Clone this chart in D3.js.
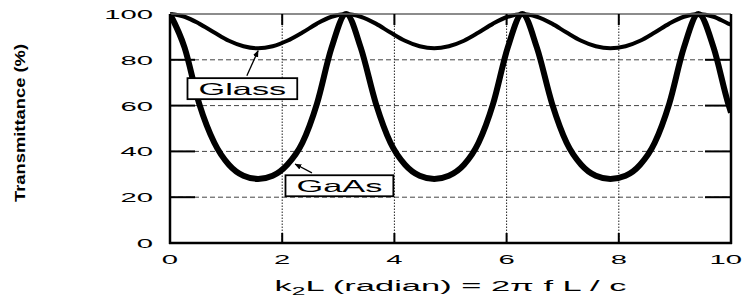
<!DOCTYPE html>
<html>
<head>
<meta charset="utf-8">
<script src="https://cdn.jsdelivr.net/npm/d3@7"></script>
<style>
  body { margin: 0; background: #fff; }
  text { font-family: "Liberation Sans", Arial, sans-serif; fill: #000; }
</style>
</head>
<body>
<div id="chart"></div>
<script>
// phase k2L (radian) sampled every ~pi/12
const k2L = [0, 0.26, 0.52, 0.79, 1.05, 1.31, 1.57, 1.83, 2.09, 2.36, 2.62, 2.88, 3.14,
  3.40, 3.67, 3.93, 4.19, 4.45, 4.71, 4.97, 5.24, 5.50, 5.76, 6.02, 6.28,
  6.54, 6.81, 7.07, 7.33, 7.59, 7.85, 8.12, 8.38, 8.64, 8.90, 9.16, 9.42,
  9.69, 9.95, 10.0];
// transmittance (%)
const glass = [100, 98.8, 95.8, 91.9, 88.3, 85.9, 85, 85.9, 88.3, 91.9, 95.8, 98.8, 100,
  98.8, 95.8, 91.9, 88.3, 85.9, 85, 85.9, 88.3, 91.9, 95.8, 98.8, 100,
  98.8, 95.8, 91.9, 88.3, 85.9, 85, 85.9, 88.3, 91.9, 95.8, 98.8, 100,
  98.8, 95.8, 95.3];
const gaas = [100, 85.3, 60.9, 43.8, 34.2, 29.4, 28, 29.4, 34.2, 43.8, 60.9, 85.3, 100,
  85.3, 60.9, 43.8, 34.2, 29.4, 28, 29.4, 34.2, 43.8, 60.9, 85.3, 100,
  85.3, 60.9, 43.8, 34.2, 29.4, 28, 29.4, 34.2, 43.8, 60.9, 85.3, 100,
  85.3, 60.9, 57];
const xTicks = [0, 2, 4, 6, 8, 10];
const yTicks = [0, 20, 40, 60, 80, 100];
// annotation: label, arrow tip, arrow tail, label centre (data units)
const labels = [
  { name: "Glass", tip: [1.57, 84], tail: [1.37, 73], at: [1.29, 67.4] },
  { name: "GaAs", tip: [2.23, 34.5], tail: [2.53, 30.6], at: [3.02, 25.0] }
];

const width = 743, height = 300;
const margin = { top: 14, right: 12, bottom: 57, left: 170 };
const SX = 2.25; // the original lettering is stretched horizontally

const svg = d3.select("#chart").append("svg")
  .attr("width", width).attr("height", height);

const x = d3.scaleLinear().domain([0, 10]).range([margin.left, width - margin.right]);
const y = d3.scaleLinear().domain([0, 100]).range([height - margin.bottom, margin.top]);

svg.append("defs").append("clipPath").attr("id", "plot")
  .append("rect").attr("x", x(0)).attr("y", y(100) - 4)
  .attr("width", x(10) - x(0)).attr("height", y(0) - y(100) + 4);

const marker = svg.select("defs").append("marker")
  .attr("id", "head").attr("viewBox", "0 0 10 10")
  .attr("refX", 9).attr("refY", 5)
  .attr("markerWidth", 7).attr("markerHeight", 7)
  .attr("markerUnits", "userSpaceOnUse")
  .attr("orient", "auto");
marker.append("path").attr("d", "M0,1 L10,5 L0,9 z").attr("fill", "#000");

// grid
const inner = yTicks.slice(1, -1), innerX = xTicks.slice(1, -1);
svg.append("g").selectAll("line").data(inner).join("line")
  .attr("x1", x(0)).attr("x2", x(10))
  .attr("y1", d => y(d)).attr("y2", d => y(d))
  .attr("stroke", "#444").attr("stroke-width", 1).attr("stroke-dasharray", "5,3");
svg.append("g").selectAll("line").data(innerX).join("line")
  .attr("x1", d => x(d)).attr("x2", d => x(d))
  .attr("y1", y(0)).attr("y2", y(100))
  .attr("stroke", "#222").attr("stroke-width", 1).attr("stroke-dasharray", "1.5,1.5");

// curves
const line = d3.line().x((d, i) => x(k2L[i])).y(d => y(d)).curve(d3.curveMonotoneX);
const curves = svg.append("g").attr("clip-path", "url(#plot)");
curves.append("path").datum(gaas).attr("d", line)
  .attr("fill", "none").attr("stroke", "#000").attr("stroke-width", 6);
curves.append("path").datum(glass).attr("d", line)
  .attr("fill", "none").attr("stroke", "#000").attr("stroke-width", 4);

// frame
svg.append("line").attr("x1", x(0)).attr("x2", x(10)).attr("y1", y(100)).attr("y2", y(100))
  .attr("stroke", "#666").attr("stroke-width", 1.5);
const frame = svg.append("g").attr("stroke", "#000").attr("stroke-width", 2.5);
frame.append("line").attr("x1", x(0)).attr("x2", x(0)).attr("y1", y(100)).attr("y2", y(0) + 1);
frame.append("line").attr("x1", x(10)).attr("x2", x(10)).attr("y1", y(100)).attr("y2", y(0) + 1);
frame.append("line").attr("x1", x(0) - 1).attr("x2", x(10) + 1).attr("y1", y(0)).attr("y2", y(0));

// ticks
const ticks = svg.append("g").attr("stroke", "#000").attr("stroke-width", 2);
ticks.selectAll(".yl").data(inner).join("line")
  .attr("x1", x(0)).attr("x2", x(0) + 25).attr("y1", d => y(d)).attr("y2", d => y(d));
ticks.selectAll(".yr").data(inner).join("line")
  .attr("x1", x(10)).attr("x2", x(10) - 26).attr("y1", d => y(d)).attr("y2", d => y(d));
ticks.selectAll(".xb").data(innerX).join("line")
  .attr("x1", d => x(d)).attr("x2", d => x(d)).attr("y1", y(0)).attr("y2", y(0) - 10);
ticks.selectAll(".xt").data(innerX).join("line")
  .attr("x1", d => x(d)).attr("x2", d => x(d)).attr("y1", y(100)).attr("y2", y(100) + 11);

// tick labels
svg.append("g").selectAll("text").data(yTicks).join("text")
  .attr("transform", d => `translate(${x(0) - 17},${y(d) + 5}) scale(${SX},1)`)
  .attr("text-anchor", "end").attr("font-size", 13).text(d => d);
svg.append("g").selectAll("text").data(xTicks).join("text")
  .attr("text-anchor", "middle").attr("font-size", 13).text(d => d)
  .each(function (d) {
    // keep the last label inside the window
    const half = this.getComputedTextLength() * SX / 2;
    const cx = Math.min(x(d), width - 1 - half);
    d3.select(this).attr("transform", `translate(${cx},${y(0) + 21}) scale(${SX},1)`);
  });

// axis titles
const xt = svg.append("text").attr("text-anchor", "middle").attr("font-size", 15.5);
xt.append("tspan").text("k");
xt.append("tspan").attr("font-size", 11).attr("dy", 4).text("2");
xt.append("tspan").attr("dy", -4).text("L (radian) = 2\u03c0 f L / c");
const xw = xt.node().getComputedTextLength();
xt.attr("transform", `translate(${(x(0) + x(10)) / 2},291) scale(${352 / xw},1)`);

svg.append("text")
  .attr("transform", `translate(25,123) rotate(-90)`)
  .attr("text-anchor", "middle").attr("font-size", 15).attr("font-weight", "bold")
  .attr("textLength", 158).attr("lengthAdjust", "spacingAndGlyphs")
  .text("Transmittance (%)");

// annotations
labels.forEach(l => {
  const g = svg.append("g");
  g.append("line")
    .attr("x1", x(l.tail[0])).attr("y1", y(l.tail[1]))
    .attr("x2", x(l.tip[0])).attr("y2", y(l.tip[1]))
    .attr("stroke", "#000").attr("stroke-width", 1.3).attr("marker-end", "url(#head)");
  const cx = x(l.at[0]), cy = y(l.at[1]);
  const box = g.append("rect").attr("fill", "#fff").attr("stroke", "#000").attr("stroke-width", 1.8);
  const t = g.append("text").attr("text-anchor", "middle").attr("font-size", 16.5).text(l.name);
  const w = t.node().getComputedTextLength() * 2.08;
  t.attr("transform", `translate(${cx},${cy + 6}) scale(2.08,1)`);
  box.attr("x", cx - w / 2 - 11).attr("y", cy - 10.5).attr("width", w + 22).attr("height", 21);
});
</script>
</body>
</html>
